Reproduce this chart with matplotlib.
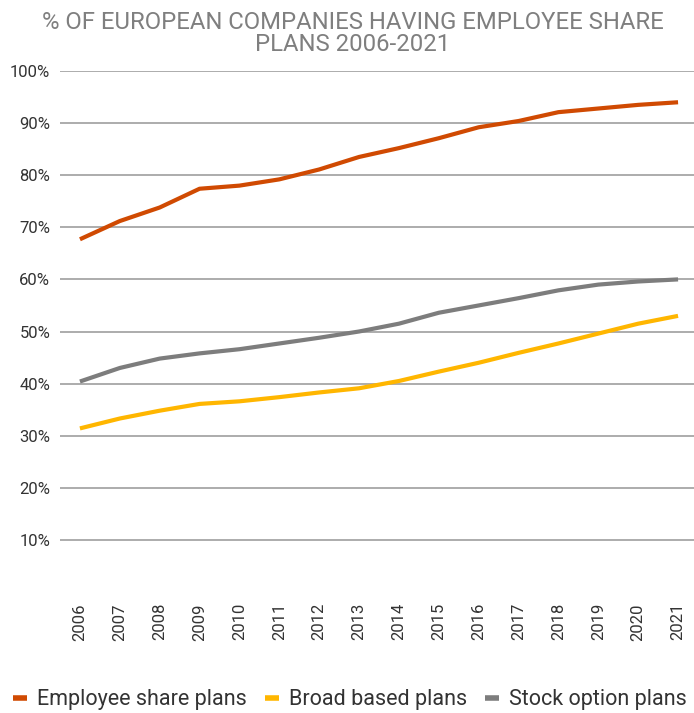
import matplotlib
matplotlib.use("Agg")
import matplotlib.pyplot as plt
from matplotlib.ticker import FuncFormatter

years = [str(y) for y in range(2006, 2022)]
employee_share = [67.7, 71.2, 73.8, 77.4, 78.0, 79.2, 81.1, 83.5, 85.2, 87.1, 89.2, 90.4, 92.1, 92.8, 93.5, 94.0]
broad_based = [31.4, 33.3, 34.8, 36.1, 36.6, 37.4, 38.3, 39.1, 40.5, 42.3, 44.0, 45.9, 47.7, 49.6, 51.5, 53.0]
stock_option = [40.4, 43.0, 44.8, 45.8, 46.6, 47.7, 48.8, 50.0, 51.5, 53.6, 55.0, 56.4, 57.9, 59.0, 59.6, 60.0]
series_names = ["Employee share plans", "Broad based plans", "Stock option plans"]
colors = ["#D04A02", "#FFB600", "#7D7D7D"]
yticks = [10, 20, 30, 40, 50, 60, 70, 80, 90, 100]

plt.rcParams['font.family'] = ['Roboto', 'DejaVu Sans']

fig = plt.figure(figsize=(6.94, 7.13), dpi=100)
ax = fig.add_axes([60/694, 1-592/713, 1-60/694, (592-71)/713])

x = list(range(len(years)))
for vals, name, c in zip([employee_share, broad_based, stock_option], series_names, colors):
    ax.plot(x, vals, color=c, lw=3, label=name, solid_capstyle='butt')

ax.set_xlim(-0.5, 15.4)
ax.set_ylim(0, 100)
ax.set_yticks(yticks)
ax.yaxis.set_major_formatter(FuncFormatter(lambda v, p: f"{int(v)}%"))
ax.set_xticks(x)
ax.set_xticklabels(years, rotation=90)
ax.grid(axis='y', color='#A6A6A6', lw=1.3)
ax.set_axisbelow(True)
for s in ax.spines.values():
    s.set_visible(False)
ax.tick_params(axis='both', length=0, labelsize=12, colors='#333333')
ax.tick_params(axis='y', pad=7)
ax.tick_params(axis='x', pad=8)

fig.text(353/694, 1-33.5/713, "% OF EUROPEAN COMPANIES HAVING EMPLOYEE SHARE\nPLANS 2006-2021",
         ha='center', va='center', fontsize=17.2, color='#7F7F7F', linespacing=0.98)

leg = fig.legend(loc='center left', bbox_to_anchor=(13/694, 1-700/713), ncol=3, frameon=False,
                 fontsize=15.5, handlelength=0.65, handletextpad=0.47, columnspacing=0.84,
                 borderaxespad=0, borderpad=0)
for t in leg.get_texts():
    t.set_color('#333333')
for h in leg.legend_handles:
    h.set_linewidth(4)

fig.savefig("out.png", dpi=100)
